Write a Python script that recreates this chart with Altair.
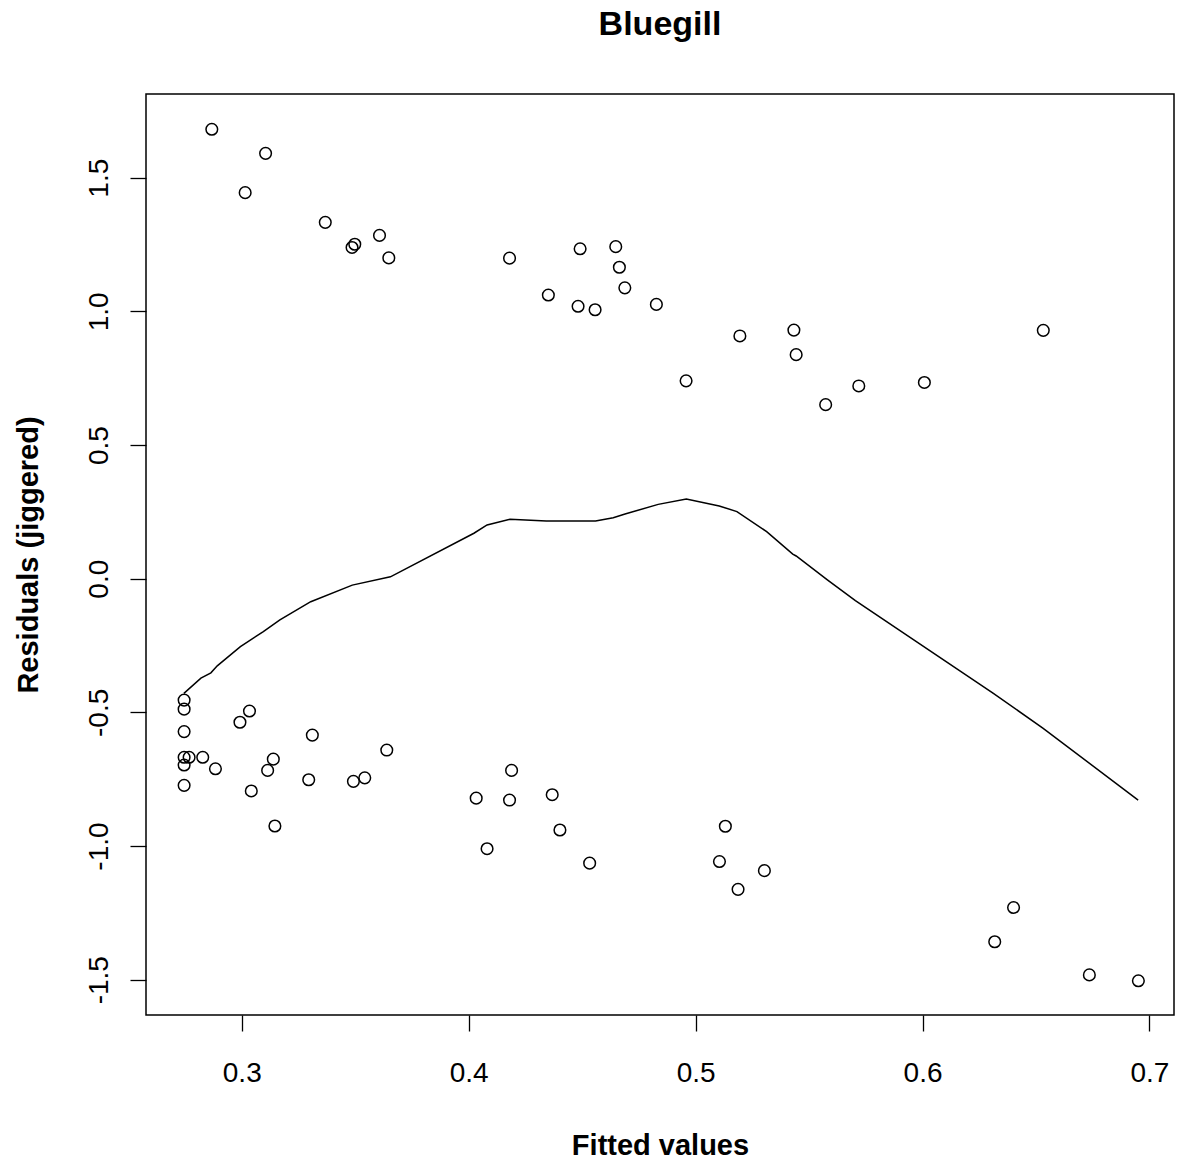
import altair as alt
import pandas as pd

# Residual points (fitted value, jiggered residual)
fitted = [
    0.2868, 0.3105, 0.3015, 0.3368, 0.3486, 0.3498, 0.3607, 0.3648, 0.4180, 0.4491,
    0.4648, 0.4664, 0.4688, 0.4351, 0.4482, 0.4557, 0.4827, 0.4958, 0.5195, 0.5433,
    0.5443, 0.5573, 0.5719, 0.6008, 0.6532,
    0.2746, 0.2746, 0.2746, 0.2746, 0.2768, 0.2746, 0.2746, 0.2828, 0.2884, 0.2992,
    0.3034, 0.3042, 0.3139, 0.3114, 0.3146, 0.3311, 0.3295, 0.3492, 0.3542, 0.3639,
    0.4033, 0.4180, 0.4189, 0.4081, 0.4368, 0.4402, 0.4533, 0.5131, 0.5105, 0.5303,
    0.5187, 0.6401, 0.6318, 0.6735, 0.6951,
]
resid = [
    1.681, 1.591, 1.444, 1.333, 1.239, 1.251, 1.284, 1.200, 1.199, 1.234,
    1.242, 1.165, 1.088, 1.061, 1.019, 1.006, 1.026, 0.740, 0.908, 0.930,
    0.838, 0.651, 0.721, 0.734, 0.929,
    -0.454, -0.488, -0.572, -0.668, -0.668, -0.697, -0.773, -0.668, -0.711, -0.537,
    -0.495, -0.794, -0.675, -0.717, -0.925, -0.585, -0.752, -0.758, -0.745, -0.641,
    -0.821, -0.828, -0.717, -1.010, -0.808, -0.940, -1.064, -0.926, -1.058, -1.092,
    -1.162, -1.230, -1.358, -1.482, -1.504,
]

# Smooth curve
smooth_x = [
    0.2745, 0.2820, 0.2864, 0.2892, 0.2994, 0.3095, 0.3168, 0.3304, 0.3487, 0.3655,
    0.4023, 0.4081, 0.4182, 0.4342, 0.4559, 0.4637, 0.4689, 0.4835, 0.4959, 0.5104,
    0.5182, 0.5313, 0.5428, 0.5443, 0.5582, 0.5704, 0.6312, 0.6530, 0.6950,
]
smooth_y = [
    -0.429, -0.372, -0.352, -0.326, -0.254, -0.198, -0.154, -0.086, -0.024, 0.007,
    0.170, 0.201, 0.222, 0.216, 0.216, 0.228, 0.242, 0.278, 0.298, 0.272,
    0.251, 0.176, 0.092, 0.085, -0.005, -0.082, -0.429, -0.559, -0.828,
]

x_ticks = [0.3, 0.4, 0.5, 0.6, 0.7]
y_ticks = [-1.5, -1.0, -0.5, 0.0, 0.5, 1.0, 1.5]

pts = pd.DataFrame({"fitted": fitted, "resid": resid})
ln = pd.DataFrame({"fitted": smooth_x, "resid": smooth_y, "ord": list(range(len(smooth_x)))})

FONT = "Liberation Sans"
LBL = "replace(format(datum.value, '.1f'), '\u2212', '-')"

xscale = alt.Scale(domain=[0.2578, 0.7108], nice=False, zero=False)
yscale = alt.Scale(domain=[-1.632, 1.813], nice=False, zero=False)

xaxis = alt.Axis(
    values=x_ticks, labelExpr=LBL, title="Fitted values", grid=False, domain=False,
    tickColor="black", tickSize=16, tickWidth=1.3,
    labelFont=FONT, labelFontSize=28, labelColor="black", labelPadding=50,
    labelBaseline="alphabetic", labelFlush=False, labelOverlap=False,
    titleFont=FONT, titleFontSize=29, titleFontWeight="bold", titleColor="black",
    titleBaseline="alphabetic", titleAlign="center", titleX=514, titleY=139,
)
yaxis = alt.Axis(
    values=y_ticks, labelExpr=LBL, title="Residuals (jiggered)", grid=False, domain=False,
    tickColor="black", tickSize=16, tickWidth=1.3,
    labelFont=FONT, labelFontSize=28, labelColor="black", labelPadding=23,
    labelAngle=270, labelAlign="center", labelBaseline="alphabetic",
    labelFlush=False, labelOverlap=False,
    titleFont=FONT, titleFontSize=29, titleFontWeight="bold", titleColor="black",
    titleAngle=270, titleAlign="center", titleBaseline="alphabetic",
    titleX=-109, titleY=460.5,
)

points = alt.Chart(pts).mark_point(
    shape="circle", filled=False, color="black", size=135, strokeWidth=1.5, opacity=1
).encode(
    x=alt.X("fitted:Q", scale=xscale, axis=xaxis),
    y=alt.Y("resid:Q", scale=yscale, axis=yaxis),
)

line = alt.Chart(ln).mark_line(color="black", strokeWidth=1.5).encode(
    x=alt.X("fitted:Q", scale=xscale),
    y=alt.Y("resid:Q", scale=yscale),
    order="ord:Q",
)

chart = alt.layer(points, line).properties(
    width=1028,
    height=921,
    autosize=alt.AutoSizeParams(type="none"),
    padding={"left": 146, "top": 94, "right": 3, "bottom": 148},
    background="white",
    title=alt.TitleParams(
        "Bluegill", font=FONT, fontSize=34, fontWeight="bold", color="black",
        anchor="middle", baseline="alphabetic", offset=25,
    ),
).configure_view(stroke="black", strokeWidth=1.5)

chart.save("out.html", embed_options={"renderer": "svg", "actions": False})
